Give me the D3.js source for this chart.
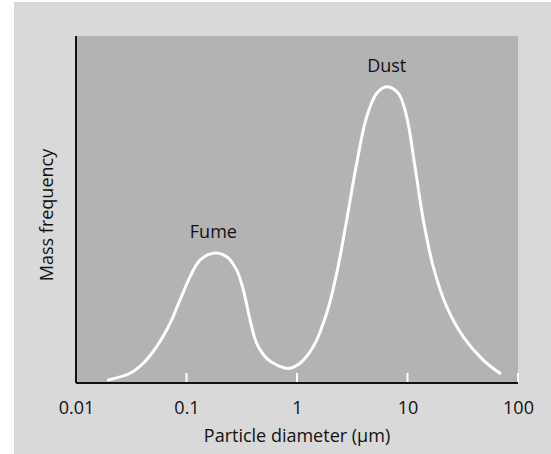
<!DOCTYPE html>
<html><head><meta charset="utf-8">
<script src="https://cdn.jsdelivr.net/npm/d3@7"></script>
<style>html,body{margin:0;padding:0;background:#fff;}svg{display:block;}</style>
</head><body>
<script>
// Particle diameter (µm) and relative mass frequency (0-100)
const diameters = [0.0196,0.0308,0.0406,0.0537,0.0710,0.0873,0.1076,0.1324,0.175,0.231,0.284,0.327,0.376,0.432,0.532,0.655,0.834,1.064,1.406,1.857,2.287,2.818,3.469,4.273,5.264,6.48,8.26,9.84,11.69,13.9,17.1,22.6,32.0,48.5,68.7];
const massFreq  = [0.86,2.8,5.7,10.5,17.2,23.9,30.6,35.4,37.4,36.4,32.6,26.8,18.2,11.4,7.1,5.2,4.2,5.7,10.5,20.1,31.6,47.0,63.3,76.7,83.5,85.4,83.5,76.7,62.3,47.0,33.5,22.0,13.3,6.6,2.8];
const tickValues = [0.01,0.1,1,10,100];
const tickLabels = ["0.01","0.1","1","10","100"];
const peakLabels = ["Fume","Dust"];
const peakX = [0.175,6.48];
const peakY = [37.4,85.4];

const W=551,H=454;
const svg=d3.select("body").append("svg").attr("width",W).attr("height",H);
const font="'Open Sans', sans-serif";
svg.append("rect").attr("x",14).attr("y",2).attr("width",W-14).attr("height",H-2).attr("fill","#d9d9d9");

const L=76,R=518,T=36,B=383;
const x=d3.scaleLog().domain([0.01,100]).range([L,R]);
const y=d3.scaleLinear().domain([0,100]).range([B,T]);

svg.append("rect").attr("x",L).attr("y",T).attr("width",R-L).attr("height",B-T).attr("fill","#b3b3b3");

const ax=svg.append("g").attr("transform",`translate(0,${B})`)
  .call(d3.axisBottom(x).tickValues(tickValues).tickSize(0).tickFormat((d,i)=>tickLabels[i]).tickPadding(18));
ax.select(".domain").remove();
ax.selectAll("text").attr("font-family",font).attr("font-size",18).attr("fill","#111");
svg.append("g").selectAll("line").data(tickValues.slice(1)).join("line")
  .attr("x1",d=>x(d)).attr("x2",d=>x(d)).attr("y1",B-10).attr("y2",B)
  .attr("stroke","#fff").attr("stroke-width",2);

svg.append("line").attr("x1",L).attr("x2",R).attr("y1",B).attr("y2",B).attr("stroke","#111").attr("stroke-width",2);
svg.append("line").attr("x1",L).attr("x2",L).attr("y1",T).attr("y2",B).attr("stroke","#111").attr("stroke-width",2);

const pts=diameters.map((d,i)=>[d,massFreq[i]]);
svg.append("path").datum(pts)
  .attr("d",d3.line().x(d=>x(d[0])).y(d=>y(d[1])).curve(d3.curveCatmullRom.alpha(0.5)))
  .attr("fill","none").attr("stroke","#fff").attr("stroke-width",3).attr("stroke-linecap","round");

svg.append("g").selectAll("text").data(peakLabels).join("text")
  .attr("x",(d,i)=>x(peakX[i])).attr("y",(d,i)=>y(peakY[i])-15)
  .attr("text-anchor","middle").attr("font-family",font).attr("font-size",18).attr("fill","#111").text(d=>d);

svg.append("text").attr("x",(L+R)/2).attr("y",442).attr("text-anchor","middle")
  .attr("font-family",font).attr("font-size",18).attr("fill","#111").text("Particle diameter (µm)");
svg.append("text").attr("transform","translate(53,215) rotate(-90)").attr("text-anchor","middle")
  .attr("font-family",font).attr("font-size",18).attr("fill","#111").text("Mass frequency");
</script>
</body></html>
